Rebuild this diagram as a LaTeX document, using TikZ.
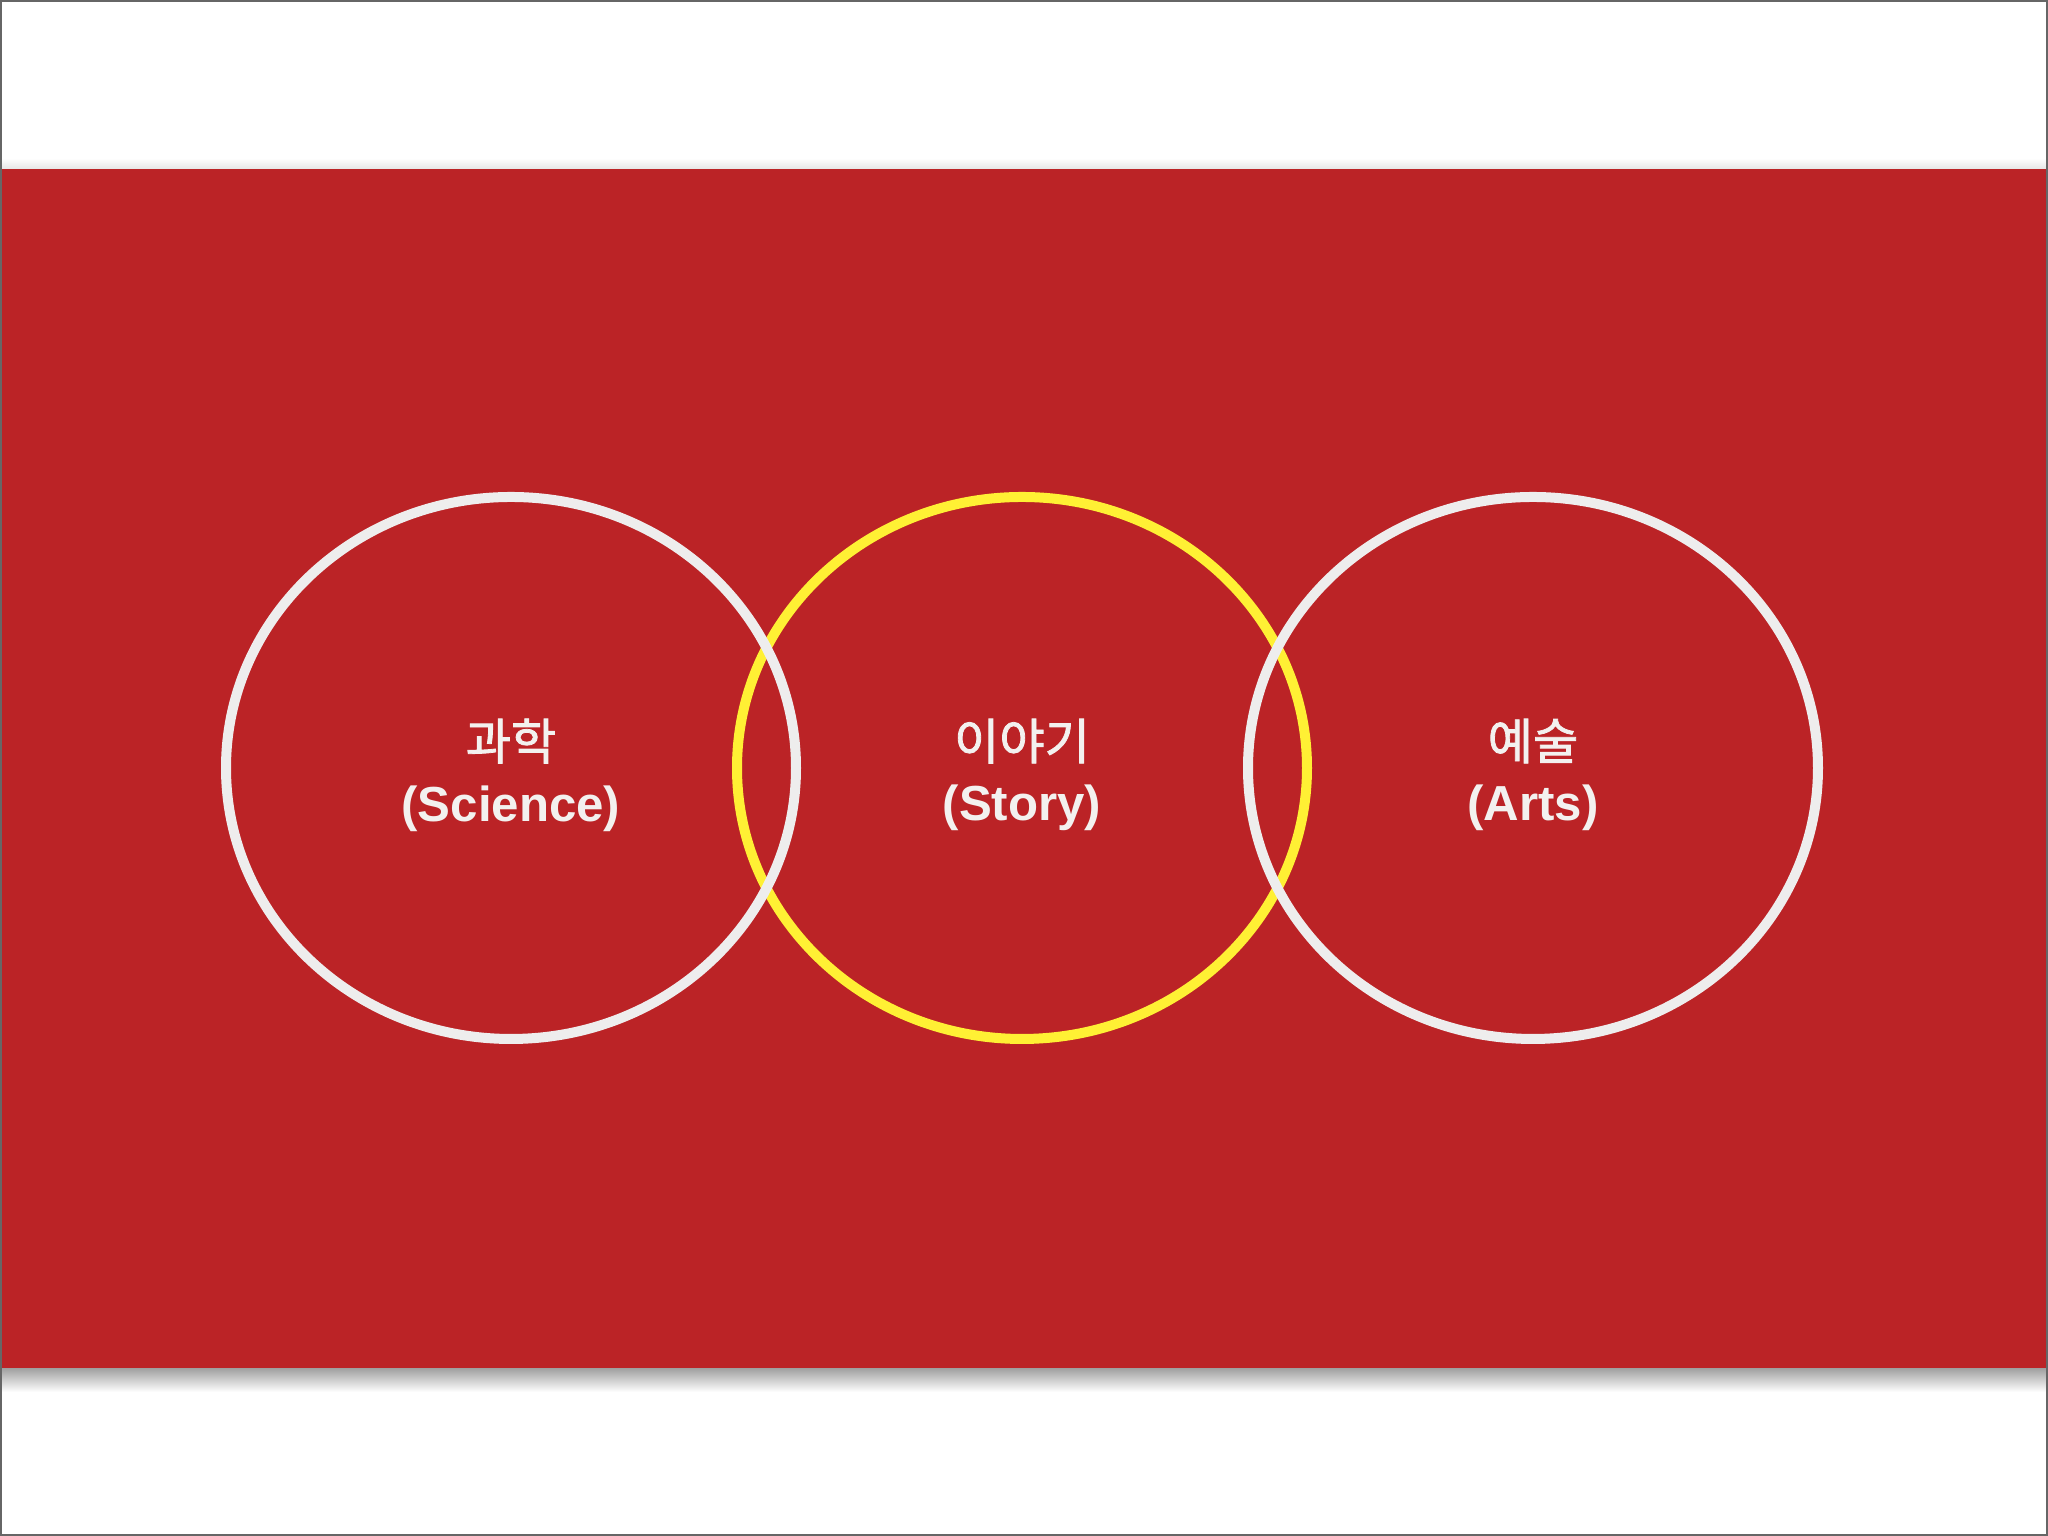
\documentclass[tikz,border=0pt]{standalone}
\usepackage{fontspec}
\setmainfont{Liberation Sans}
\newfontfamily\kr{Noto Sans CJK KR}[FakeBold=1.6]
\usetikzlibrary{shapes.geometric}
\definecolor{bandred}{HTML}{BB2326}
\definecolor{ringwhite}{HTML}{EEEDED}
\definecolor{ringyellow}{HTML}{FFF034}
\definecolor{labelwhite}{HTML}{F3F1EF}
\tikzset{
	ring/.style={ellipse, draw, line width=0.1cm, minimum width=5.7cm, minimum height=5.42cm, inner sep=0pt},
	tag/.style={align=center, inner sep=0pt, text=labelwhite, font=\fontsize{14}{17.5}\selectfont\bfseries}
}

\begin{document}
\begin{tikzpicture}
	%\draw[step=1cm,gray,very thin] (0,0) grid (20.48,15.36);
	\useasboundingbox (0,0) rectangle (20.48,15.36);
	\fill[white] (0,0) rectangle (20.48,15.36);
	\shade[top color=gray!75, bottom color=white] (0.02,1.68) rectangle (20.46,1.44);
	\shade[top color=white, bottom color=gray!20] (0.02,13.78) rectangle (20.46,13.67);
	\fill[bandred] (0.02,1.68) rectangle (20.46,13.67);
	\draw[gray!80!black, line width=0.02cm] (0.01,0.01) rectangle (20.47,15.35);
	\node[ring, draw=ringyellow] (story) at (10.22,7.68) {};
	\node[tag] (storytext) at ([yshift=-0.07cm]story.center) {{\kr\mdseries 이야기}\\(Story)};
	\foreach \name/\x/\kor/\eng in {sci/5.11/과학/Science, arts/15.33/예술/Arts}{
		\node[ring, draw=ringwhite] (\name) at (\x,7.68) {};
		\node[tag] (\name text) at ([yshift=-0.07cm]\name.center) {{\kr\mdseries \kor}\\(\eng)};
	}
\end{tikzpicture}
\end{document}
